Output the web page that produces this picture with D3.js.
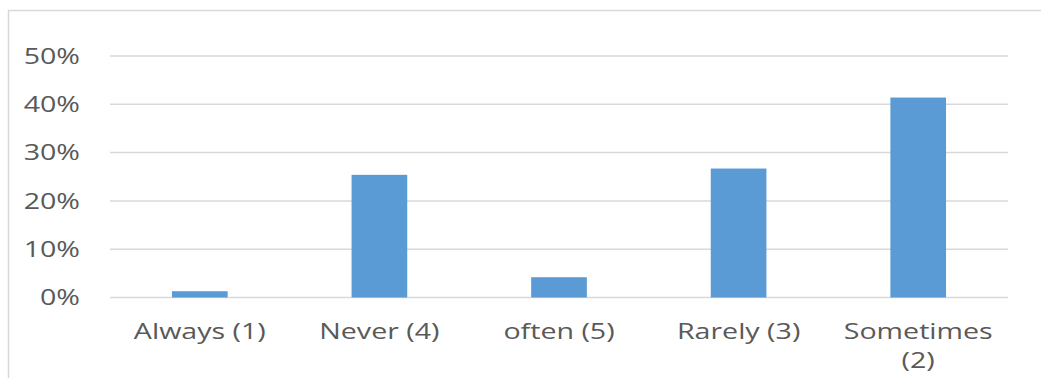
<!DOCTYPE html>
<html>
<head>
<meta charset="utf-8">
<script src="https://cdn.jsdelivr.net/npm/d3@7"></script>
<style>
  html, body { margin: 0; padding: 0; background: #fff; }
  svg { display: block; }
</style>
</head>
<body>
<svg id="chart" width="1041" height="378"></svg>
<script>
// Survey response frequencies
const categories = ["Always (1)", "Never (4)", "often (5)", "Rarely (3)", "Sometimes (2)"];
const labelLines = [["Always (1)"], ["Never (4)"], ["often (5)"], ["Rarely (3)"], ["Sometimes", "(2)"]];
const shares = [0.013, 0.254, 0.042, 0.267, 0.414];
const yTicks = [0, 0.1, 0.2, 0.3, 0.4, 0.5];

const W = 1041, H = 378;
const plot = { left: 110, right: 1008, top: 56, bottom: 297.5 };
const textColor = "#595959";
const gridColor = "#d9d9d9";
const barColor = "#5b9bd5";
const fontSize = 22;
const stretch = 1.3;

const svg = d3.select("#chart");

// chart area frame
svg.append("rect")
  .attr("x", 8.5).attr("y", 10.5)
  .attr("width", W + 20).attr("height", H + 20)
  .attr("fill", "none").attr("stroke", gridColor).attr("stroke-width", 1.5);

const x = d3.scaleBand()
  .domain(categories)
  .range([plot.left, plot.right])
  .paddingInner(0.69)
  .paddingOuter(0.345);

const y = d3.scaleLinear()
  .domain([0, 0.5])
  .range([plot.bottom, plot.top]);

// horizontal gridlines
svg.append("g")
  .selectAll("line")
  .data(yTicks)
  .join("line")
  .attr("x1", plot.left).attr("x2", plot.right)
  .attr("y1", d => y(d)).attr("y2", d => y(d))
  .attr("stroke", gridColor).attr("stroke-width", 1.5);

// y tick labels
const fmt = d3.format(".0%");
svg.append("g")
  .selectAll("text")
  .data(yTicks)
  .join("text")
  .attr("transform", d => `translate(80,${y(d) - 1}) scale(${stretch},1)`)
  .attr("text-anchor", "end")
  .attr("dominant-baseline", "central")
  .attr("font-family", "'Open Sans', sans-serif")
  .attr("font-size", fontSize)
  .attr("fill", textColor)
  .text(d => fmt(d));

// bars
svg.append("g")
  .selectAll("rect")
  .data(shares)
  .join("rect")
  .attr("x", (d, i) => x(categories[i]))
  .attr("width", x.bandwidth())
  .attr("y", d => y(d))
  .attr("height", d => y(0) - y(d))
  .attr("fill", barColor);

// category labels
const cat = svg.append("g")
  .selectAll("g")
  .data(categories)
  .join("g")
  .attr("transform", d => `translate(${x(d) + x.bandwidth() / 2},339)`);

cat.each(function(d, i) {
  d3.select(this).selectAll("text")
    .data(labelLines[i])
    .join("text")
    .attr("transform", (t, j) => `translate(0,${j * 28.5}) scale(${stretch},1)`)
    .attr("text-anchor", "middle")
    .attr("font-family", "'Open Sans', sans-serif")
    .attr("font-size", fontSize)
    .attr("fill", textColor)
    .text(t => t);
});
</script>
</body>
</html>
